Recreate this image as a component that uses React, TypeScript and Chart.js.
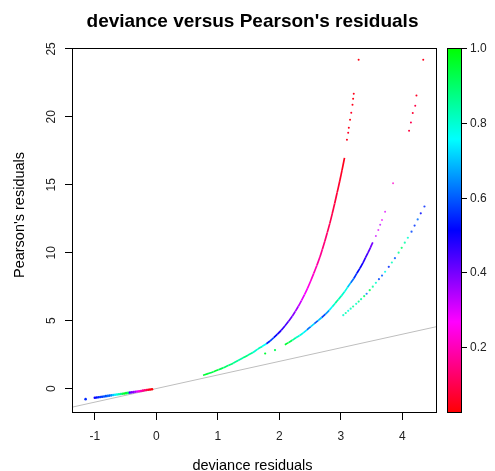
import React, { useEffect, useRef } from "react";
import { Chart, registerables } from "chart.js";

Chart.register(...registerables);

const FONT = "'Liberation Sans', Arial, Helvetica, sans-serif";
Chart.defaults.font.family = FONT;

// Axis limits and tick values
const X_RANGE = [-1.371, 4.564];
const Y_RANGE = [-1.8, 25.07];
const X_TICKS = [-1, 0, 1, 2, 3, 4];
const Y_TICKS = [0, 5, 10, 15, 20, 25];
const COLOR_RANGE = [0.024, 1.0];
const COLOR_TICKS = [0.2, 0.4, 0.6, 0.8, 1.0];

const TITLE = "deviance versus Pearson's residuals";
const X_TITLE = "deviance residuals";
const Y_TITLE = "Pearson's residuals";

// Zero counts
const zeroDev = [-1.15, -1.0, -0.97, -0.94, -0.91, -0.88, -0.85, -0.82, -0.79, -0.76, -0.73, -0.7, -0.67, -0.64, -0.61, -0.58, -0.55, -0.52, -0.49, -0.46, -0.43, -0.4, -0.37, -0.34, -0.31, -0.28, -0.25, -0.22, -0.19, -0.16, -0.13, -0.1, -0.07];
const zeroPear = [-0.78, -0.68, -0.66, -0.64, -0.62, -0.6, -0.58, -0.56, -0.54, -0.52, -0.5, -0.48, -0.46, -0.44, -0.42, -0.4, -0.38, -0.36, -0.34, -0.32, -0.3, -0.28, -0.26, -0.235, -0.215, -0.195, -0.175, -0.155, -0.13, -0.11, -0.09, -0.07, -0.05];
const zeroCol = [0.55, 0.5, 0.52, 0.55, 0.57, 0.56, 0.6, 0.58, 0.62, 0.6, 0.65, 0.7, 0.74, 0.78, 0.82, 0.86, 0.92, 0.97, 0.95, 0.9, 0.45, 0.4, 0.38, 0.35, 0.3, 0.24, 0.2, 0.17, 0.14, 0.1, 0.06, 0.04, 0.03];

// Counts of one
const oneDev = [0.76, 0.84, 0.93, 1.01, 1.09, 1.17, 1.25, 1.33, 1.41, 1.49, 1.57, 1.65, 1.72, 1.79, 1.85, 1.91, 1.97, 2.03, 2.09, 2.15, 2.21, 2.26, 2.31, 2.36, 2.41, 2.46, 2.51, 2.56, 2.61, 2.66, 2.7, 2.74, 2.78, 2.82, 2.86, 2.9, 2.94, 2.98, 3.02, 3.06];
const onePear = [0.98, 1.1, 1.24, 1.38, 1.53, 1.7, 1.87, 2.06, 2.26, 2.46, 2.66, 2.9, 3.1, 3.3, 3.5, 3.74, 4.0, 4.28, 4.6, 4.95, 5.32, 5.68, 6.06, 6.48, 6.92, 7.4, 7.92, 8.48, 9.06, 9.68, 10.25, 10.84, 11.48, 12.14, 12.86, 13.62, 14.42, 15.22, 16.08, 16.98];
const oneCol = [0.95, 0.93, 0.95, 0.92, 0.9, 0.88, 0.86, 0.84, 0.88, 0.85, 0.8, 0.82, 0.76, 0.55, 0.58, 0.52, 0.48, 0.46, 0.44, 0.41, 0.38, 0.35, 0.32, 0.29, 0.27, 0.24, 0.22, 0.2, 0.18, 0.16, 0.14, 0.13, 0.11, 0.1, 0.09, 0.08, 0.07, 0.06, 0.05, 0.05];

const oneTailDev = [3.1, 3.12, 3.13, 3.15, 3.17, 3.19, 3.2, 3.21, 3.29];
const oneTailPear = [18.31, 18.83, 19.2, 19.79, 20.31, 20.89, 21.33, 21.7, 24.21];
const oneTailCol = [0.05, 0.06, 0.05, 0.04, 0.06, 0.05, 0.04, 0.05, 0.04];

// Counts of two
const twoHeadDev = [1.77, 1.93];
const twoHeadPear = [2.58, 2.83];
const twoHeadCol = [0.95, 0.92];

const twoDev = [2.09, 2.15, 2.21, 2.27, 2.33, 2.39, 2.45, 2.51, 2.57, 2.63, 2.69, 2.75, 2.81, 2.86, 2.91, 2.96, 3.01, 3.06, 3.11, 3.16, 3.21, 3.26, 3.31, 3.36, 3.4, 3.44, 3.48, 3.52];
const twoPear = [3.22, 3.38, 3.55, 3.74, 3.9, 4.1, 4.32, 4.56, 4.78, 5.0, 5.23, 5.48, 5.76, 6.02, 6.28, 6.56, 6.82, 7.12, 7.45, 7.78, 8.1, 8.48, 8.85, 9.25, 9.62, 9.98, 10.36, 10.76];
const twoCol = [0.95, 0.92, 0.85, 0.8, 0.78, 0.74, 0.62, 0.72, 0.6, 0.7, 0.58, 0.66, 0.75, 0.8, 0.85, 0.82, 0.8, 0.78, 0.7, 0.62, 0.56, 0.52, 0.5, 0.47, 0.45, 0.42, 0.4, 0.37];

const twoTailDev = [3.57, 3.61, 3.64, 3.67, 3.72, 3.85];
const twoTailPear = [11.23, 11.67, 12.05, 12.41, 13.02, 15.12];
const twoTailCol = [0.32, 0.3, 0.33, 0.28, 0.3, 0.22];

const twoFarDev = [4.11, 4.14, 4.17, 4.21, 4.23, 4.34];
const twoFarPear = [18.97, 19.59, 20.28, 20.82, 21.58, 24.21];
const twoFarCol = [0.08, 0.1, 0.07, 0.09, 0.06, 0.05];

// Counts of three
const threeDev = [3.04, 3.08, 3.12, 3.16, 3.2, 3.25, 3.29, 3.33, 3.38, 3.42, 3.47, 3.52, 3.57, 3.62, 3.67, 3.72, 3.78, 3.83, 3.88, 3.94, 3.99, 4.04, 4.09, 4.15, 4.2, 4.25, 4.3, 4.36];
const threePear = [5.4, 5.56, 5.72, 5.88, 6.04, 6.24, 6.4, 6.58, 6.8, 6.98, 7.24, 7.5, 7.78, 8.05, 8.32, 8.6, 8.96, 9.28, 9.6, 10.0, 10.36, 10.74, 11.1, 11.55, 12.0, 12.45, 12.9, 13.4];
const threeCol = [0.8, 0.85, 0.78, 0.82, 0.86, 0.8, 0.88, 0.84, 0.9, 0.62, 0.92, 0.85, 0.8, 0.58, 0.6, 0.78, 0.55, 0.82, 0.6, 0.86, 0.9, 0.84, 0.8, 0.58, 0.56, 0.62, 0.52, 0.55];

// red -> magenta -> blue -> cyan -> green
const PALETTE = [
  [255, 0, 0],
  [255, 0, 255],
  [0, 0, 255],
  [0, 255, 255],
  [0, 255, 0],
];

function colorOf(v: number, alpha = 1): string {
  const t = Math.min(1, Math.max(0, (v - COLOR_RANGE[0]) / (COLOR_RANGE[1] - COLOR_RANGE[0])));
  const s = t * (PALETTE.length - 1);
  const i = Math.min(PALETTE.length - 2, Math.floor(s));
  const f = s - i;
  const c = PALETTE[i].map((a, k) => Math.round(a + (PALETTE[i + 1][k] - a) * f));
  return `rgba(${c[0]},${c[1]},${c[2]},${alpha})`;
}

const toPoints = (xs: number[], ys: number[]) => xs.map((x, i) => ({ x, y: ys[i] }));

function dots(xs: number[], ys: number[], cs: number[], r = 1.1, alpha = 1): any {
  return {
    type: "scatter",
    data: toPoints(xs, ys),
    showLine: false,
    pointRadius: r,
    pointHoverRadius: r,
    pointBorderWidth: 0,
    pointBorderColor: "rgba(0,0,0,0)",
    pointBackgroundColor: cs.map((c) => colorOf(c, alpha)),
  };
}

function curve(xs: number[], ys: number[], cs: number[]): any {
  return {
    type: "scatter",
    data: toPoints(xs, ys),
    showLine: true,
    borderWidth: 1.7,
    borderColor: colorOf(cs[0]),
    pointRadius: 0,
    pointHoverRadius: 0,
    cubicInterpolationMode: "monotone",
    segment: {
      borderColor: (ctx: any) => colorOf(cs[ctx.p0DataIndex]),
    },
  };
}

const decor = {
  id: "decor",
  afterDraw(chart: any) {
    const { ctx, chartArea: a } = chart;
    ctx.save();

    // plot frame
    ctx.strokeStyle = "#000";
    ctx.lineWidth = 1;
    ctx.strokeRect(
      Math.round(a.left) + 0.5,
      Math.round(a.top) + 0.5,
      Math.round(a.right - a.left) - 1,
      Math.round(a.bottom - a.top) - 1
    );

    // titles
    const cx = (a.left + a.right) / 2 - 2;
    ctx.fillStyle = "#000";
    ctx.textAlign = "center";
    ctx.textBaseline = "alphabetic";
    ctx.font = `bold 19px ${FONT}`;
    ctx.fillText(TITLE, cx, 26.5);
    ctx.font = `14.5px ${FONT}`;
    ctx.fillText(X_TITLE, cx, 470);
    ctx.save();
    ctx.translate(23.5, 215);
    ctx.rotate(-Math.PI / 2);
    ctx.fillText(Y_TITLE, 0, 0);
    ctx.restore();

    // colour bar
    const bx = Math.round(a.right) + 10;
    const bw = 15;
    const top = Math.round(a.top);
    const bot = Math.round(a.bottom);
    const g = ctx.createLinearGradient(0, bot, 0, top);
    PALETTE.forEach((c, i) => g.addColorStop(i / (PALETTE.length - 1), `rgb(${c[0]},${c[1]},${c[2]})`));
    ctx.fillStyle = g;
    ctx.fillRect(bx, top, bw, bot - top);
    ctx.strokeStyle = "#000";
    ctx.strokeRect(bx + 0.5, top + 0.5, bw - 1, bot - top - 1);

    const cy = (v: number) =>
      bot - ((v - COLOR_RANGE[0]) / (COLOR_RANGE[1] - COLOR_RANGE[0])) * (bot - top);
    ctx.font = `12px ${FONT}`;
    ctx.textAlign = "left";
    ctx.textBaseline = "middle";
    ctx.fillStyle = "#222";
    COLOR_TICKS.forEach((v) => {
      const y = Math.round(cy(v)) + 0.5;
      ctx.beginPath();
      ctx.moveTo(bx + bw, y);
      ctx.lineTo(bx + bw + 5, y);
      ctx.stroke();
      ctx.fillText(v.toFixed(1), bx + bw + 8, y);
    });

    ctx.restore();
  },
};

export default function App() {
  const ref = useRef<HTMLCanvasElement>(null);

  useEffect(() => {
    if (!ref.current) return;
    const chart = new Chart(ref.current, {
      type: "scatter",
      data: {
        datasets: [
          dots(zeroDev, zeroPear, zeroCol, 1.3),
          curve(oneDev, onePear, oneCol),
          dots(oneTailDev, oneTailPear, oneTailCol, 1.0),
          dots(twoHeadDev, twoHeadPear, twoHeadCol, 1.1),
          curve(twoDev, twoPear, twoCol),
          dots(twoTailDev, twoTailPear, twoTailCol, 1.0, 0.75),
          dots(twoFarDev, twoFarPear, twoFarCol, 1.0),
          dots(threeDev, threePear, threeCol, 1.1, 0.85),
          {
            type: "scatter",
            data: [
              { x: X_RANGE[0], y: X_RANGE[0] },
              { x: X_RANGE[1], y: X_RANGE[1] },
            ],
            showLine: true,
            borderColor: "#bebebe",
            borderWidth: 1,
            pointRadius: 0,
            pointHoverRadius: 0,
          },
        ] as any,
      },
      options: {
        responsive: false,
        animation: false,
        devicePixelRatio: 1,
        events: [],
        layout: { padding: { left: 0, top: 48, right: 58, bottom: 0 } },
        plugins: {
          legend: { display: false },
          tooltip: { enabled: false },
          title: { display: false },
        },
        scales: {
          x: {
            type: "linear",
            min: X_RANGE[0],
            max: X_RANGE[1],
            afterBuildTicks: (s: any) => {
              s.ticks = X_TICKS.map((v) => ({ value: v }));
            },
            afterFit: (s: any) => {
              s.height = 58;
            },
            grid: {
              display: true,
              drawOnChartArea: false,
              drawTicks: true,
              tickLength: 7,
              tickColor: "#000",
              color: "#000",
            },
            border: { display: false },
            ticks: {
              padding: 9,
              color: "#222",
              font: { size: 12 },
              maxRotation: 0,
              autoSkip: false,
              callback: (v: any) => String(v),
            },
          },
          y: {
            type: "linear",
            position: "left",
            min: Y_RANGE[0],
            max: Y_RANGE[1],
            afterBuildTicks: (s: any) => {
              s.ticks = Y_TICKS.map((v) => ({ value: v }));
            },
            afterFit: (s: any) => {
              s.width = 72;
            },
            grid: {
              display: true,
              drawOnChartArea: false,
              drawTicks: true,
              tickLength: 7,
              tickColor: "#000",
              color: "#000",
            },
            border: { display: false },
            ticks: {
              padding: 7,
              color: "#222",
              font: { size: 12 },
              minRotation: 90,
              maxRotation: 90,
              crossAlign: "center",
              autoSkip: false,
              callback: (v: any) => String(v),
            },
          },
        },
      } as any,
      plugins: [decor],
    });
    return () => chart.destroy();
  }, []);

  return (
    <div style={{ position: "absolute", left: 0, top: 0, width: 495, height: 471, background: "#fff" }}>
      <canvas ref={ref} width={495} height={471} style={{ display: "block" }} />
    </div>
  );
}
